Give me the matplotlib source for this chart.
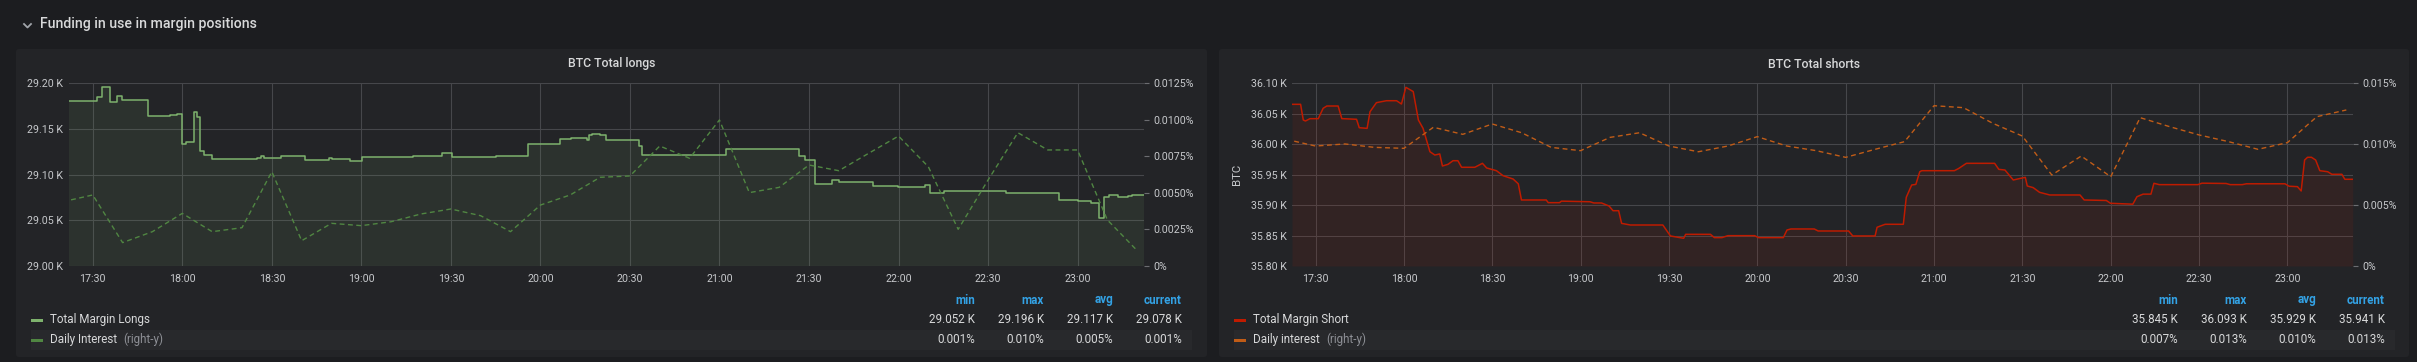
import pandas as pd
import matplotlib
matplotlib.use("Agg")
import matplotlib.pyplot as plt
import matplotlib.dates as mdates
from matplotlib.patches import FancyBboxPatch, Rectangle
from matplotlib.ticker import FixedLocator, FuncFormatter

W, H = 2417, 362
DAY = "2019-06-01 "

# ---- data ----
longs_time = ["17:22:00", "17:31:30", "17:33:10", "17:35:40", "17:38:10", "17:39:40", "17:48:40",
              "17:56:00", "17:58:20", "17:59:50", "18:01:20", "18:04:05", "18:05:00", "18:06:00",
              "18:07:10", "18:10:05", "18:25:00", "18:26:30", "18:27:30", "18:32:55", "18:41:10",
              "18:49:00", "18:50:10", "18:56:20", "19:00:10", "19:17:20", "19:27:05", "19:30:20",
              "19:45:00", "19:55:55", "20:06:40", "20:10:10", "20:15:30", "20:16:25", "20:17:10",
              "20:19:55", "20:22:00", "20:33:05", "20:34:05", "20:36:35", "20:41:25", "20:51:05",
              "20:58:05", "21:02:20", "21:26:35", "21:28:35", "21:32:05", "21:37:35", "21:40:00",
              "21:51:20", "21:59:55", "22:08:55", "22:10:40", "22:15:05", "22:35:55", "22:53:40",
              "23:00:10", "23:04:25", "23:07:10", "23:08:55", "23:10:35", "23:13:25", "23:16:55",
              "23:18:20", "23:22:10"]
longs_btc = [29.181, 29.185, 29.196, 29.180, 29.186, 29.182, 29.164,
             29.165, 29.166, 29.134, 29.136, 29.169, 29.163, 29.126,
             29.121, 29.117, 29.118, 29.120, 29.118, 29.120, 29.116,
             29.118, 29.117, 29.115, 29.119, 29.120, 29.124, 29.119,
             29.120, 29.134, 29.139, 29.140, 29.138, 29.143, 29.145,
             29.143, 29.138, 29.131, 29.121, 29.122, 29.121, 29.122,
             29.122, 29.128, 29.120, 29.116, 29.090, 29.094, 29.092,
             29.088, 29.087, 29.089, 29.080, 29.082, 29.080, 29.072,
             29.071, 29.069, 29.052, 29.075, 29.078, 29.075, 29.077,
             29.078, 29.078]

interest_time = ["17:20", "17:30", "17:40", "17:50", "18:00", "18:10", "18:20", "18:30", "18:40",
                 "18:50", "19:00", "19:10", "19:20", "19:30", "19:40", "19:50", "20:00", "20:10",
                 "20:20", "20:30", "20:40", "20:50", "21:00", "21:10", "21:20", "21:30", "21:40",
                 "21:50", "22:00", "22:10", "22:20", "22:30", "22:40", "22:50", "23:00", "23:10",
                 "23:20"]
longs_interest = [0.00440, 0.00486, 0.00160, 0.00235, 0.00360, 0.00235, 0.00262, 0.00645, 0.00173,
                  0.00292, 0.00276, 0.00303, 0.00356, 0.00390, 0.00344, 0.00235, 0.00417, 0.00486,
                  0.00607, 0.00616, 0.00821, 0.00737, 0.00999, 0.00502, 0.00538, 0.00691, 0.00652,
                  0.00771, 0.00889, 0.00679, 0.00251, 0.00588, 0.00912, 0.00794, 0.00794, 0.00315,
                  0.00105]
shorts_interest = [0.01040, 0.00985, 0.01002, 0.00974, 0.00966, 0.01139, 0.01081, 0.01166, 0.01094,
                   0.00974, 0.00947, 0.01056, 0.01094, 0.00985, 0.00938, 0.00985, 0.01062, 0.00985,
                   0.00947, 0.00892, 0.00958, 0.01021, 0.01316, 0.01300, 0.01171, 0.01067, 0.00747,
                   0.00903, 0.00733, 0.01218, 0.01144, 0.01076, 0.01021, 0.00958, 0.01013, 0.01226,
                   0.01281]

shorts_time = ["17:22:00", "17:24:55", "17:25:50", "17:26:35", "17:28:05", "17:30:55", "17:32:35",
               "17:33:50", "17:37:40", "17:38:55", "17:43:55", "17:44:50", "17:47:30", "17:48:30",
               "17:50:40", "17:54:05", "17:57:30", "17:59:10", "18:00:40", "18:03:10", "18:04:55",
               "18:06:30", "18:08:50", "18:10:30", "18:12:10", "18:13:05", "18:15:00", "18:16:40",
               "18:18:20", "18:19:35", "18:24:05", "18:26:40", "18:28:05", "18:31:25", "18:33:40",
               "18:37:05", "18:38:50", "18:39:55", "18:48:20", "18:49:00", "18:52:50", "18:53:30",
               "19:03:10", "19:04:30", "19:07:05", "19:09:40", "19:11:00", "19:12:55", "19:13:55",
               "19:16:55", "19:27:55", "19:30:30", "19:35:00", "19:35:40", "19:44:05", "19:45:25",
               "19:48:00", "19:50:00", "19:59:05", "20:00:25", "20:08:50", "20:10:05", "20:11:25",
               "20:19:20", "20:20:40", "20:31:00", "20:32:25", "20:40:00", "20:40:40", "20:43:25",
               "20:49:35", "20:50:35", "20:52:25", "20:53:50", "20:55:10", "20:55:50", "21:06:55",
               "21:08:20", "21:11:00", "21:20:35", "21:22:00", "21:24:05", "21:26:55", "21:28:55",
               "21:31:00", "21:31:40", "21:33:40", "21:35:50", "21:39:20", "21:49:35", "21:51:00",
               "21:58:30", "21:59:55", "22:07:30", "22:08:55", "22:11:00", "22:13:40", "22:14:40",
               "22:16:30", "22:29:35", "22:31:00", "22:39:10", "22:40:35", "22:44:40", "22:46:05",
               "22:59:10", "23:00:35", "23:03:25", "23:04:40", "23:05:50", "23:06:50", "23:08:10",
               "23:09:35", "23:11:00", "23:13:40", "23:15:05", "23:18:30", "23:19:30", "23:22:10"]
shorts_btc = [36.0655, 36.0655, 36.0397, 36.0381, 36.0419, 36.0419, 36.0590,
              36.0627, 36.0627, 36.0420, 36.0409, 36.0271, 36.0260, 36.0534,
              36.0682, 36.0714, 36.0714, 36.0660, 36.0934, 36.0864, 36.0397,
              36.0260, 35.9877, 35.9822, 35.9840, 35.9642, 35.9670, 35.9729,
              35.9729, 35.9621, 35.9621, 35.9686, 35.9610, 35.9565, 35.9483,
              35.9428, 35.9350, 35.9084, 35.9084, 35.9040, 35.9040, 35.9065,
              35.9055, 35.9035, 35.9035, 35.8985, 35.8908, 35.8908, 35.8700,
              35.8673, 35.8673, 35.8493, 35.8455, 35.8520, 35.8520, 35.8466,
              35.8466, 35.8498, 35.8498, 35.8466, 35.8466, 35.8591, 35.8608,
              35.8608, 35.8575, 35.8575, 35.8493, 35.8493, 35.8636, 35.8685,
              35.8685, 35.9128, 35.9330, 35.9340, 35.9548, 35.9565, 35.9565,
              35.9600, 35.9686, 35.9686, 35.9587, 35.9576, 35.9412, 35.9434,
              35.9456, 35.9314, 35.9287, 35.9210, 35.9166, 35.9166, 35.9084,
              35.9076, 35.9030, 35.9015, 35.9138, 35.9180, 35.9180, 35.9358,
              35.9336, 35.9336, 35.9360, 35.9355, 35.9336, 35.9336, 35.9350,
              35.9350, 35.9310, 35.9303, 35.9232, 35.9740, 35.9785, 35.9785,
              35.9740, 35.9565, 35.9548, 35.9506, 35.9506, 35.9424, 35.9424]

longs_yticks = [29.00, 29.05, 29.10, 29.15, 29.20]
longs_rticks = [0, 0.0025, 0.005, 0.0075, 0.01, 0.0125]
shorts_yticks = [35.80, 35.85, 35.90, 35.95, 36.00, 36.05, 36.10]
shorts_rticks = [0, 0.005, 0.01, 0.015]

stat_names = ["min", "max", "avg", "current"]
longs_stats = [["29.052 K", "29.196 K", "29.117 K", "29.078 K"],
               ["0.001%", "0.010%", "0.005%", "0.001%"]]
shorts_stats = [["35.845 K", "36.093 K", "35.929 K", "35.941 K"],
                ["0.007%", "0.013%", "0.010%", "0.013%"]]

# ---- style ----
PAGE_BG = "#1c1d20"
PANEL_BG = "#232427"
BAND_BG = "#28292c"
GRID = "#46474b"
TXT = "#d8d9da"
TICK_TXT = "#c7c9cc"
BLUE = "#33a2e5"
FONT = ["Roboto", "DejaVu Sans"]
plt.rcParams["font.family"] = FONT

T0 = pd.Timestamp(DAY + "17:22:00")
T1 = pd.Timestamp(DAY + "23:22:10")


def to_dt(times):
    return pd.to_datetime([DAY + t for t in times])


fig = plt.figure(figsize=(W / 100, H / 100), dpi=100, facecolor=PAGE_BG)
bg = fig.add_axes([0, 0, 1, 1], zorder=0)
bg.set_xlim(0, W)
bg.set_ylim(H, 0)
bg.axis("off")

# row header
bg.plot([24, 27.5, 31], [24, 27.5, 24], color="#a0a4aa", lw=1.3)
bg.text(40, 28, "Funding in use in margin positions", fontsize=10.2, color=TXT, va="baseline",
        fontweight="medium")


def draw_panel(px0, px1, ax_x0, ax_x1, title, main_t, main_v, main_color, step, yticks,
               int_v, int_color, rticks, rfmt, labels, stats, stat_x, ylabel=None):
    bg.add_patch(FancyBboxPatch((px0, 49), px1 - px0, 308, boxstyle="round,pad=0,rounding_size=3",
                                facecolor=PANEL_BG, edgecolor="none"))
    bg.text((px0 + px1) / 2, 64, title, fontsize=8.8, color=TXT, ha="center", va="center",
            fontweight="medium")

    ax = fig.add_axes([ax_x0 / W, (H - 266) / H, (ax_x1 - ax_x0) / W, (266 - 83.3) / H], zorder=1)
    ax.set_facecolor(PANEL_BG)
    t = to_dt(main_t)
    if step:
        ax.plot(t, main_v, color=main_color, lw=1.1, drawstyle="steps-post", zorder=3)
        ax.fill_between(t, main_v, yticks[0], step="post", color=main_color, alpha=0.1, lw=0)
    else:
        ax.plot(t, main_v, color=main_color, lw=1.1, zorder=3)
        ax.fill_between(t, main_v, yticks[0], color=main_color, alpha=0.1, lw=0)
    ax.set_ylim(yticks[0], yticks[-1])
    ax.yaxis.set_major_locator(FixedLocator(yticks))
    ax.yaxis.set_major_formatter(FuncFormatter(lambda v, p: f"{v:.2f} K"))
    ax.set_xlim(T0, T1)
    ax.xaxis.set_major_locator(mdates.MinuteLocator(byminute=[0, 30]))
    ax.xaxis.set_major_formatter(mdates.DateFormatter("%H:%M"))
    ax.grid(True, color=GRID, lw=0.8)
    ax.set_axisbelow(True)
    for s in ax.spines.values():
        s.set_visible(False)
    ax.tick_params(axis="both", length=0, labelsize=7.7, labelcolor=TICK_TXT)
    ax.tick_params(axis="y", pad=4)
    ax.tick_params(axis="x", pad=6)
    if ylabel:
        ax.set_ylabel(ylabel, fontsize=8.2, color=TICK_TXT, labelpad=6)

    ax2 = ax.twinx()
    ax2.set_zorder(2)
    ax2.patch.set_visible(False)
    ax2.plot(to_dt(interest_time), int_v, color=int_color, lw=1.0, ls=(0, (3.5, 2.5)))
    ax2.set_ylim(rticks[0], rticks[-1])
    ax2.yaxis.set_major_locator(FixedLocator(rticks))
    ax2.yaxis.set_major_formatter(FuncFormatter(lambda v, p: "0%" if v == 0 else rfmt.format(v)))
    for s in ax2.spines.values():
        s.set_visible(False)
    ax2.tick_params(axis="y", length=3.5, width=0.8, color="#6c6d71", pad=3.5,
                    labelsize=7.7, labelcolor=TICK_TXT)
    ax2.set_xlim(T0, T1)

    # legend
    lx = px0 + 15
    bg.add_patch(Rectangle((lx, 330), stat_x[-1] + 10 - lx, 19.5, facecolor=BAND_BG, edgecolor="none"))
    for name, x in zip(stat_names, stat_x):
        bg.text(x, 300, name, fontsize=8.4, color=BLUE, ha="right", va="center", fontweight="bold")
    for i, (lab, col, row) in enumerate(zip(labels, [main_color, int_color], stats)):
        y = 320 + 20 * i
        bg.add_patch(Rectangle((lx, y - 1.5), 12, 3.5, facecolor=col, edgecolor="none"))
        t_lab = bg.text(lx + 19, y - 0.5, lab, fontsize=8.4, color=TXT, ha="left", va="center")
        if i == 1:
            bg.annotate("(right-y)", xy=(1, 0.5), xycoords=t_lab, xytext=(4.5, 0),
                        textcoords="offset points", fontsize=8.4, color="#8e9096",
                        ha="left", va="center")
        for val, x in zip(row, stat_x):
            bg.text(x, y - 0.5, val, fontsize=8.4, color=TXT, ha="right", va="center")


draw_panel(16, 1207, 68.9, 1143.7, "BTC Total longs", longs_time, longs_btc, "#7eb26d", True,
           longs_yticks, longs_interest, "#508642", longs_rticks, "{:.4f}%",
           ["Total Margin Longs", "Daily Interest"], longs_stats, [975, 1044, 1113, 1182])
draw_panel(1219, 2409, 1292, 2352.7, "BTC Total shorts", shorts_time, shorts_btc, "#bf1b00", False,
           shorts_yticks, shorts_interest, "#c15c17", shorts_rticks, "{:.3f}%",
           ["Total Margin Short", "Daily interest"], shorts_stats, [2178, 2247, 2316, 2385],
           ylabel="BTC")

fig.savefig("out.png", dpi=100, facecolor=PAGE_BG)
